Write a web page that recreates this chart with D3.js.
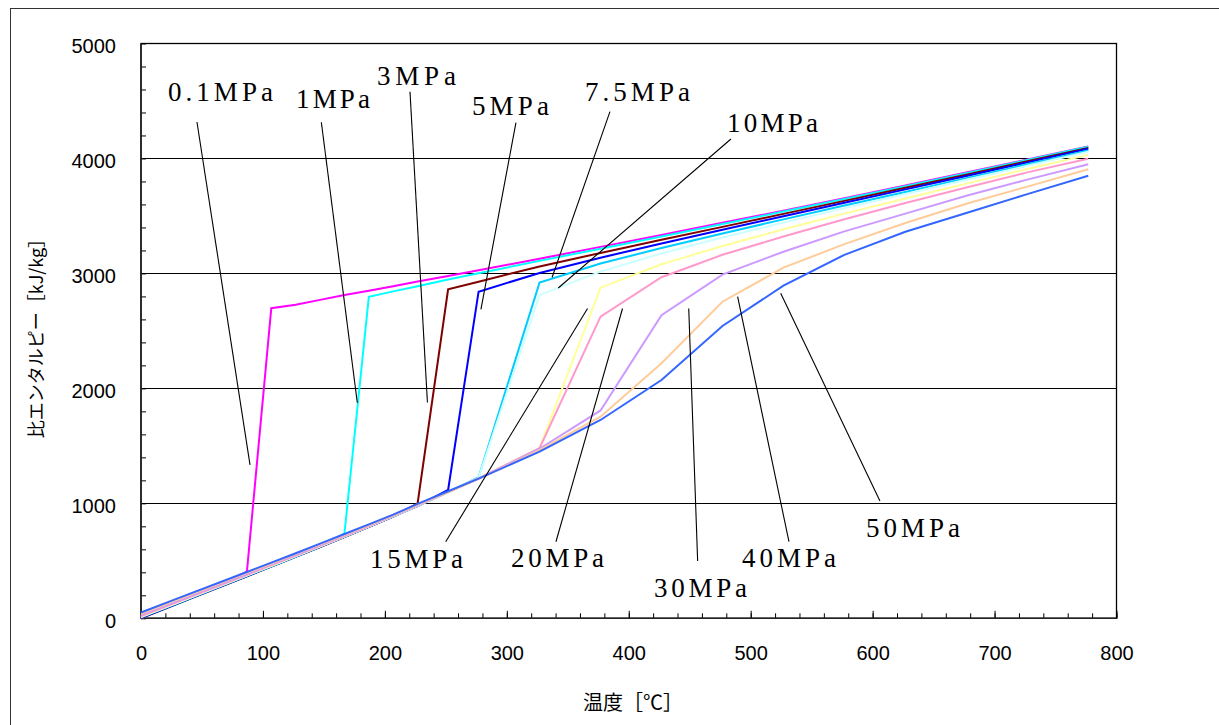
<!DOCTYPE html>
<html>
<head>
<meta charset="utf-8">
<script src="https://cdn.jsdelivr.net/npm/d3@7"></script>
<style>
  html, body { margin: 0; padding: 0; background: #fff; }
  svg { display: block; }
</style>
</head>
<body>
<svg id="chart" width="1219" height="725"></svg>
<script>
// Temperature grid [°C] shared by every isobar
const temps = [0, 26.85, 86.85, 106.85, 126.85, 146.85, 166.85, 186.85, 206.85, 226.85, 251.85,
               276.85, 326.85, 376.85, 426.85, 476.85, 526.85, 576.85, 626.85, 676.85, 726.85, 776.85];

// Specific enthalpy [kJ/kg] along each isobar
const h0_1 = [0, 113, 405, 2697, 2727, 2770, 2812, 2850, 2889, 2929, 2978, 3028, 3128, 3231, 3335, 3440, 3546, 3655, 3766, 3877, 3991, 4104];
const h1   = [1, 113, 365, 449, 534, 620, 739, 2797, 2844, 2889, 2947, 3001, 3109, 3215, 3322, 3429, 3538, 3648, 3759, 3871, 3986, 4101];
const h3   = [3, 115, 366, 450, 535, 620, 707, 795, 884, 1000, 2862, 2928, 3061, 3178, 3292, 3405, 3518, 3631, 3745, 3859, 3975, 4092];
const h5   = [5, 117, 368, 452, 536, 622, 708, 796, 885, 977, 1116, 2841, 3004, 3137, 3260, 3380, 3497, 3614, 3731, 3848, 3966, 4084];
const h7_5 = [7.5, 119, 370, 453, 538, 623, 709, 797, 886, 977, 1096, 1227, 2920, 3086, 3221, 3348, 3470, 3590, 3709, 3829, 3949, 4070];
const h10  = [10, 122, 372, 455, 540, 625, 711, 798, 887, 978, 1096, 1224, 2813, 3016, 3174, 3312, 3442, 3568, 3691, 3814, 3936, 4058];
const h15  = [15, 126, 376, 459, 543, 628, 714, 800, 889, 980, 1097, 1220, 1482, 2876, 3080, 3238, 3384, 3520, 3652, 3781, 3908, 4031];
const h20  = [20, 131, 379, 463, 546, 631, 716, 803, 891, 981, 1097, 1218, 1480, 2624, 2967, 3162, 3321, 3471, 3612, 3748, 3879, 3998];
const h30  = [30, 140, 387, 470, 553, 637, 722, 807, 895, 983, 1097, 1214, 1475, 1808, 2636, 2990, 3189, 3366, 3520, 3676, 3816, 3950];
const h40  = [40, 149, 395, 477, 560, 643, 727, 812, 899, 986, 1097, 1211, 1462, 1754, 2218, 2754, 3050, 3255, 3438, 3606, 3755, 3906];
const h50  = [50, 160, 403, 484, 566, 649, 733, 817, 902, 995, 1105, 1215, 1449, 1725, 2073, 2543, 2893, 3162, 3362, 3525, 3690, 3849];

const pressureLabels = ["0.1MPa", "1MPa", "3MPa", "5MPa", "7.5MPa", "10MPa", "15MPa", "20MPa", "30MPa", "40MPa", "50MPa"];
const enthalpies = [h0_1, h1, h3, h5, h7_5, h10, h15, h20, h30, h40, h50];
const lineColors = ["#FF00FF", "#00FFFF", "#800000", "#0000FF", "#00CCFF", "#CCFFFF",
                    "#FFFF99", "#FF99CC", "#CC99FF", "#FFCC99", "#3366FF"];

// Axis ticks
const xMajorTicks = [0, 100, 200, 300, 400, 500, 600, 700, 800];
const yMajorTicks = [0, 1000, 2000, 3000, 4000, 5000];

// Label placement: text anchor (left/baseline) and leader line ends, in data units
const callouts = [
  { text: "0.1MPa", tx: 22.1,  ty: 4496, w: 105, from: [45.9, 4317],  to: [89.4, 1334] },
  { text: "1MPa",   tx: 127.1, ty: 4439, w: 74,  from: [147.9, 4315], to: [177.4, 1875] },
  { text: "3MPa",   tx: 193.5, ty: 4639, w: 79,  from: [220.6, 4581], to: [234.9, 1877] },
  { text: "5MPa",   tx: 271.4, ty: 4378, w: 77,  from: [307.5, 4311], to: [278.8, 2688] },
  { text: "7.5MPa", tx: 364.1, ty: 4500, w: 105, from: [384.6, 4407], to: [337.1, 2965] },
  { text: "10MPa",  tx: 480.6, ty: 4230, w: 91,  from: [483.8, 4169], to: [342.2, 2873] },
  { text: "15MPa",  tx: 187.8, ty: 438,  w: 93,  from: [249.9, 666],  to: [366.2, 2695] },
  { text: "20MPa",  tx: 303.4, ty: 446,  w: 93,  from: [340.3, 666],  to: [394.9, 2695] },
  { text: "30MPa",  tx: 420.7, ty: 185,  w: 93,  from: [456.5, 498],  to: [449.2, 2695] },
  { text: "40MPa",  tx: 492.9, ty: 446,  w: 94,  from: [531.4, 666],  to: [489.3, 2798] },
  { text: "50MPa",  tx: 594.6, ty: 707,  w: 94,  from: [606.0, 1020], to: [524.6, 2827] }
];

const svg = d3.select("#chart");
const plot = { left: 141, right: 1116.5, top: 43.5, bottom: 618.3 };

const x = d3.scaleLinear().domain([0, 800]).range([plot.left, plot.right]);
const y = d3.scaleLinear().domain([0, 5000]).range([plot.bottom, plot.top]);

// Outer chart frame
svg.append("rect")
  .attr("x", 10.5).attr("y", 8.5)
  .attr("width", 1260).attr("height", 760)
  .attr("fill", "none").attr("stroke", "#333").attr("stroke-width", 1);

// Horizontal gridlines
svg.append("g")
  .selectAll("line")
  .data(yMajorTicks.filter(d => d > 0 && d < 5000))
  .join("line")
  .attr("x1", plot.left).attr("x2", plot.right)
  .attr("y1", d => Math.round(y(d)) + 0.5).attr("y2", d => Math.round(y(d)) + 0.5)
  .attr("stroke", "#000").attr("stroke-width", 1);

// Plot area border
svg.append("rect")
  .attr("x", plot.left).attr("y", plot.top)
  .attr("width", plot.right - plot.left).attr("height", plot.bottom - plot.top)
  .attr("fill", "none").attr("stroke", "#000").attr("stroke-width", 1.3);

// X axis: minor ticks every 20, major every 100, ticks point inward
const xMinor = svg.append("g")
  .attr("transform", `translate(0,${plot.bottom})`)
  .call(d3.axisBottom(x).tickValues(d3.range(0, 801, 20)).tickSizeInner(-5).tickSizeOuter(0).tickFormat(""));
const xMajor = svg.append("g")
  .attr("transform", `translate(0,${plot.bottom})`)
  .call(d3.axisBottom(x).tickValues(xMajorTicks).tickSizeInner(-7.5).tickSizeOuter(0).tickPadding(28).tickFormat(d3.format("d")));

// Y axis: minor ticks every 200 pointing inward, labels every 1000
const yMinor = svg.append("g")
  .attr("transform", `translate(${plot.left},0)`)
  .call(d3.axisLeft(y).tickValues(d3.range(0, 5001, 200)).tickSizeInner(-5).tickSizeOuter(0).tickFormat(""));
const yMajor = svg.append("g")
  .attr("transform", `translate(${plot.left},0)`)
  .call(d3.axisLeft(y).tickValues(yMajorTicks).tickSize(0).tickPadding(25).tickFormat(d3.format("d")));

[xMinor, xMajor, yMinor, yMajor].forEach(g => {
  g.select(".domain").remove();
  g.selectAll(".tick line").attr("stroke", "#000").attr("stroke-width", 1);
  g.selectAll(".tick text")
    .attr("fill", "#000")
    .style("font-family", "'Liberation Sans', Arial, sans-serif")
    .style("font-size", "20px");
});
yMajor.selectAll(".tick text").attr("dy", "0.47em");
xMajor.selectAll(".tick text").attr("dy", "0.71em");

// Bottom and left axis lines
svg.append("line")
  .attr("x1", plot.left).attr("x2", plot.right)
  .attr("y1", plot.bottom).attr("y2", plot.bottom)
  .attr("stroke", "#222").attr("stroke-width", 1.6);
svg.append("line")
  .attr("x1", plot.left).attr("x2", plot.left)
  .attr("y1", plot.top).attr("y2", plot.bottom)
  .attr("stroke", "#222").attr("stroke-width", 1.6);

// Isobars
const line = d3.line()
  .x(d => x(d[0]))
  .y(d => y(d[1]));

svg.append("g")
  .selectAll("path")
  .data(enthalpies.map((hs, i) => ({ color: lineColors[i], pts: temps.map((t, k) => [t, hs[k]]) })))
  .join("path")
  .attr("d", d => line(d.pts))
  .attr("fill", "none")
  .attr("stroke", d => d.color)
  .attr("stroke-width", 2)
  .attr("stroke-linejoin", "miter");

// Callout labels with leader lines
const cg = svg.append("g");
cg.selectAll("line")
  .data(callouts)
  .join("line")
  .attr("x1", d => x(d.from[0])).attr("y1", d => y(d.from[1]))
  .attr("x2", d => x(d.to[0])).attr("y2", d => y(d.to[1]))
  .attr("stroke", "#000").attr("stroke-width", 1.1);
cg.selectAll("text")
  .data(callouts)
  .join("text")
  .attr("x", d => x(d.tx)).attr("y", d => y(d.ty))
  .attr("textLength", d => d.w)
  .attr("lengthAdjust", "spacing")
  .style("font-family", "'Liberation Serif', 'Times New Roman', serif")
  .style("font-size", "27px")
  .attr("fill", "#000")
  .text(d => d.text);

// Axis titles
svg.append("text")
  .attr("x", 633).attr("y", 710)
  .attr("text-anchor", "middle")
  .style("font-family", "'Noto Sans CJK JP', sans-serif")
  .style("font-size", "20px")
  .attr("fill", "#000")
  .text("温度［℃］");

svg.append("text")
  .attr("transform", "translate(43,334) rotate(-90)")
  .attr("text-anchor", "middle")
  .style("font-family", "'Noto Sans CJK JP', sans-serif")
  .style("font-size", "18px")
  .attr("fill", "#000")
  .text("比エンタルピー［kJ/kg］");
</script>
</body>
</html>
